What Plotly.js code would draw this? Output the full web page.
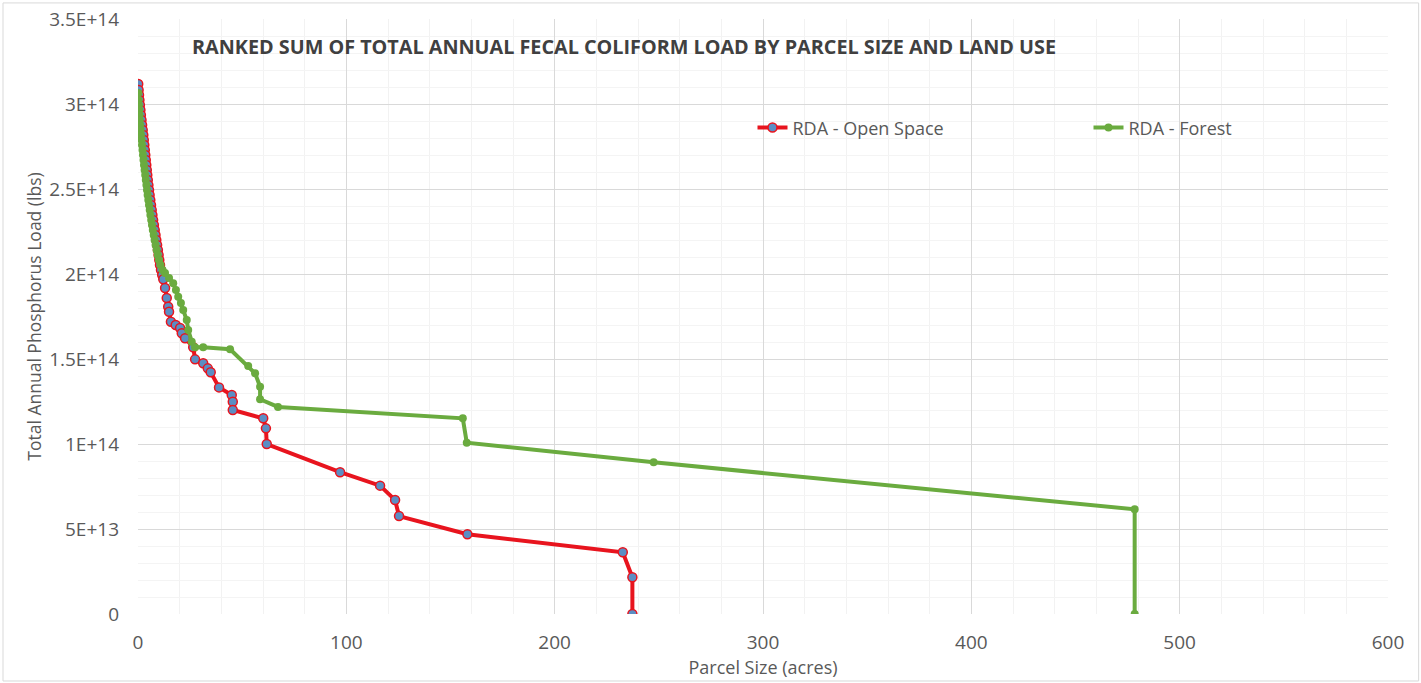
<!DOCTYPE html>
<html>
<head>
<meta charset="utf-8">
<script src="https://cdn.plot.ly/plotly-3.0.1.min.js"></script>
<style>
html,body{margin:0;padding:0;background:#fff;}
#chart{width:1421px;height:683px;}
</style>
</head>
<body>
<div id="chart"></div>
<script>
// Data
var openSpaceAcres = [0.10, 0.29, 0.48, 0.67, 0.91, 1.15, 1.39, 1.68, 1.97, 2.26, 2.54, 2.78, 3.02, 3.26, 3.50, 3.74, 3.98, 4.22, 4.46, 4.70, 4.99, 5.28, 5.57, 5.90, 6.24, 6.58, 6.91, 7.25, 7.63, 8.02, 8.40, 8.78, 9.17, 9.55, 9.89, 10.22, 10.56, 11.04, 11.62, 12.14, 13.0, 13.8, 14.5, 14.9, 15.8, 18.1, 20.2, 21.0, 22.6, 26.5, 27.4, 31.3, 33.5, 34.9, 38.9, 45.0, 45.5, 45.5, 60.1, 61.4, 61.8, 97.0, 116.2, 123.4, 125.3, 158.1, 232.7, 237.3, 237.3];
var openSpaceLoad = [3.118e14, 3.082e14, 3.053e14, 3.024e14, 2.994e14, 2.965e14, 2.935e14, 2.906e14, 2.876e14, 2.847e14, 2.818e14, 2.788e14, 2.759e14, 2.729e14, 2.700e14, 2.671e14, 2.641e14, 2.612e14, 2.582e14, 2.553e14, 2.523e14, 2.494e14, 2.465e14, 2.435e14, 2.406e14, 2.376e14, 2.347e14, 2.318e14, 2.288e14, 2.259e14, 2.229e14, 2.200e14, 2.171e14, 2.141e14, 2.112e14, 2.082e14, 2.053e14, 2.024e14, 1.994e14, 1.969e14, 1.918e14, 1.859e14, 1.808e14, 1.778e14, 1.719e14, 1.700e14, 1.682e14, 1.651e14, 1.622e14, 1.569e14, 1.498e14, 1.475e14, 1.445e14, 1.422e14, 1.333e14, 1.288e14, 1.249e14, 1.200e14, 1.151e14, 1.092e14, 1.000e14, 8.34e13, 7.55e13, 6.71e13, 5.76e13, 4.69e13, 3.63e13, 2.16e13, 0];

var forestAcres = [0.14, 0.29, 0.43, 0.58, 0.72, 0.86, 1.06, 1.25, 1.44, 1.68, 1.92, 2.16, 2.40, 2.64, 2.88, 3.17, 3.46, 3.74, 4.03, 4.32, 4.61, 4.94, 5.28, 5.62, 5.95, 6.34, 6.72, 7.10, 7.54, 7.97, 8.45, 8.93, 9.46, 10.08, 10.80, 11.76, 12.96, 14.9, 16.9, 18.2, 19.3, 20.6, 21.7, 23.4, 24.1, 25.8, 27.4, 31.3, 44.2, 52.9, 56.2, 58.6, 58.6, 67.2, 155.9, 157.8, 247.5, 478.4, 478.4];
var forestLoad = [3.065e14, 3.024e14, 2.994e14, 2.965e14, 2.935e14, 2.906e14, 2.876e14, 2.847e14, 2.818e14, 2.788e14, 2.759e14, 2.729e14, 2.700e14, 2.671e14, 2.641e14, 2.612e14, 2.582e14, 2.553e14, 2.523e14, 2.494e14, 2.465e14, 2.435e14, 2.406e14, 2.376e14, 2.347e14, 2.318e14, 2.288e14, 2.259e14, 2.229e14, 2.200e14, 2.171e14, 2.141e14, 2.112e14, 2.082e14, 2.053e14, 2.024e14, 2.006e14, 1.976e14, 1.945e14, 1.906e14, 1.866e14, 1.829e14, 1.788e14, 1.729e14, 1.671e14, 1.602e14, 1.569e14, 1.569e14, 1.557e14, 1.459e14, 1.416e14, 1.337e14, 1.263e14, 1.218e14, 1.151e14, 1.008e14, 8.92e13, 6.16e13, 0];

var yTickVals = [0, 5e13, 1e14, 1.5e14, 2e14, 2.5e14, 3e14, 3.5e14];
var yTickText = ['0', '5E+13', '1E+14', '1.5E+14', '2E+14', '2.5E+14', '3E+14', '3.5E+14'];
var xTickVals = [0, 100, 200, 300, 400, 500, 600];
var xTickText = ['0', '100', '200', '300', '400', '500', '600'];

var seriesNames = ['RDA - Open Space', 'RDA - Forest'];
var chartTitle = 'RANKED SUM OF TOTAL ANNUAL FECAL COLIFORM LOAD BY PARCEL SIZE AND LAND USE';

var font = '"Open Sans", "Liberation Sans", sans-serif';
var textColor = '#595959';

var traces = [
  {
    x: openSpaceAcres, y: openSpaceLoad, name: seriesNames[0],
    type: 'scatter', mode: 'lines+markers',
    line: {color: '#e8141e', width: 4},
    marker: {symbol: 'circle', size: 9, color: '#5b8ec4', line: {color: '#e8141e', width: 1.5}}
  },
  {
    x: forestAcres, y: forestLoad, name: seriesNames[1],
    type: 'scatter', mode: 'lines+markers',
    line: {color: '#6aab3f', width: 4},
    marker: {symbol: 'circle', size: 8, color: '#6aab3f'}
  }
];

var layout = {
  width: 1421, height: 683,
  paper_bgcolor: '#ffffff', plot_bgcolor: '#ffffff',
  margin: {l: 138, r: 33, t: 19, b: 69, autoexpand: false},
  font: {family: font, color: textColor, size: 18},
  showlegend: true,
  legend: {
    orientation: 'h', x: 0.4916, xanchor: 'left', y: 0.817, yanchor: 'middle',
    font: {family: font, size: 18, color: textColor},
    entrywidth: 291, bgcolor: 'rgba(0,0,0,0)'
  },
  xaxis: {
    range: [0, 600], tickvals: xTickVals, ticktext: xTickText,
    showgrid: true, gridcolor: '#d9d9d9', gridwidth: 1,
    minor: {dtick: 20, showgrid: true, gridcolor: '#f2f2f2', gridwidth: 1},
    zeroline: false, showline: false, ticks: '',
    ticklabelstandoff: 15,
    tickfont: {family: font, size: 19, color: textColor},
    title: {text: 'Parcel Size (acres)', font: {family: font, size: 18, color: textColor}, standoff: 4}
  },
  yaxis: {
    range: [0, 3.5e14], tickvals: yTickVals, ticktext: yTickText,
    showgrid: true, gridcolor: '#d9d9d9', gridwidth: 1,
    minor: {dtick: 1e13, showgrid: true, gridcolor: '#f4f4f4', gridwidth: 1},
    zeroline: false, showline: false, ticks: '',
    ticklabelstandoff: 18,
    tickfont: {family: font, size: 19, color: textColor},
    title: {text: 'Total Annual Phosphorus Load (lbs)', font: {family: font, size: 17.5, color: textColor}, standoff: 3}
  },
  annotations: [
    {
      text: '<b>' + chartTitle + '</b>', xref: 'paper', yref: 'paper',
      x: 0.0416, y: 0.953, xanchor: 'left', yanchor: 'middle', showarrow: false,
      font: {family: font, size: 19.8, color: '#404040'}
    }
  ],
  shapes: [
    {type: 'rect', xref: 'paper', yref: 'paper', x0: -0.108, x1: 1.0245, y0: -0.1126, y1: 1.027,
     line: {color: '#d9d9d9', width: 1}, fillcolor: 'rgba(0,0,0,0)', layer: 'below'}
  ]
};

Plotly.newPlot('chart', traces, layout, {displayModeBar: false, staticPlot: true});
</script>
</body>
</html>
